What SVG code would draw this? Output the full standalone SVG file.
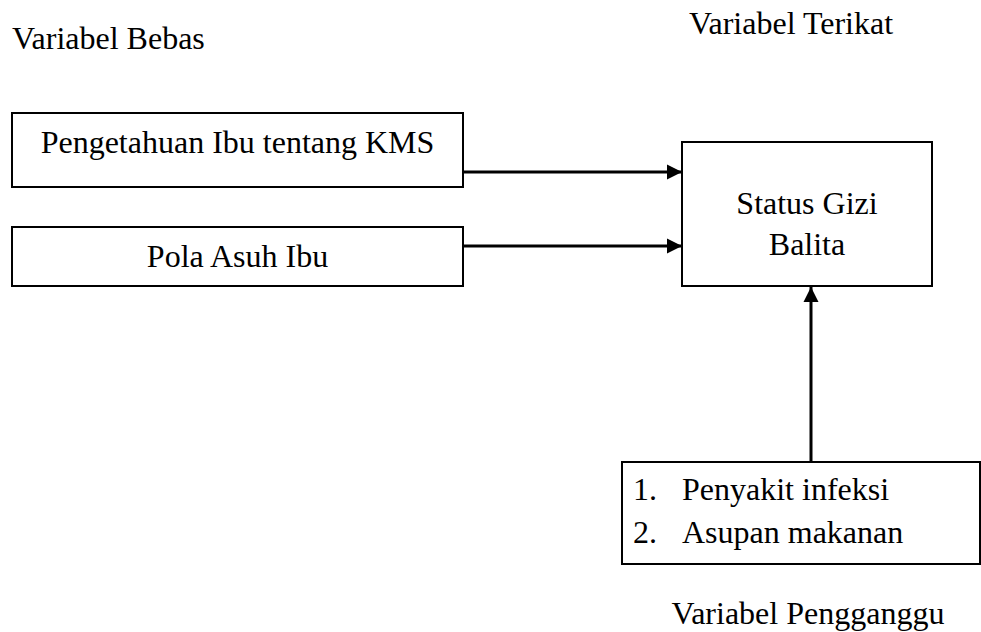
<svg xmlns="http://www.w3.org/2000/svg" width="981" height="632" viewBox="0 0 981 632">
<style>
text{font-family:'Liberation Serif','Times New Roman',Times,serif;font-size:32px;fill:#000}
.box{fill:#fff;stroke:#000;stroke-width:2}
.conn{stroke:#000;stroke-width:3;fill:none}
</style>
<defs>
<marker id="ah" markerUnits="userSpaceOnUse" markerWidth="16" markerHeight="16" refX="15" refY="8" orient="auto">
<polygon points="0,0.5 15,8 0,15.5" fill="#000"/>
</marker>
</defs>
<rect width="981" height="632" fill="#fff"/>
<g id="labels" font-family="Liberation Serif, serif">
<text x="12" y="49">Variabel Bebas</text>
<text x="791" y="34" text-anchor="middle">Variabel Terikat</text>
<text x="808" y="624" text-anchor="middle">Variabel Pengganggu</text>
</g>
<g id="node-pengetahuan">
<rect class="box" x="12" y="113" width="451" height="74"/>
<text x="237.5" y="153" text-anchor="middle">Pengetahuan Ibu tentang KMS</text>
</g>
<g id="node-pola">
<rect class="box" x="12" y="227" width="451" height="59"/>
<text x="237.5" y="267" text-anchor="middle">Pola Asuh Ibu</text>
</g>
<g id="node-status">
<rect class="box" x="682" y="142" width="250" height="144"/>
<text x="807" y="214" text-anchor="middle">Status Gizi</text>
<text x="807" y="255" text-anchor="middle">Balita</text>
</g>
<g id="node-pengganggu">
<rect class="box" x="622" y="462" width="358" height="102"/>
<text x="633" y="500">1.</text>
<text x="682" y="500">Penyakit infeksi</text>
<text x="633" y="543">2.</text>
<text x="682" y="543">Asupan makanan</text>
</g>
<g id="connectors">
<line class="conn" x1="463" y1="172" x2="682" y2="172" marker-end="url(#ah)"/>
<line class="conn" x1="463" y1="246" x2="682" y2="246" marker-end="url(#ah)"/>
<line class="conn" x1="811" y1="462" x2="811" y2="287" marker-end="url(#ah)"/>
</g>
</svg>
